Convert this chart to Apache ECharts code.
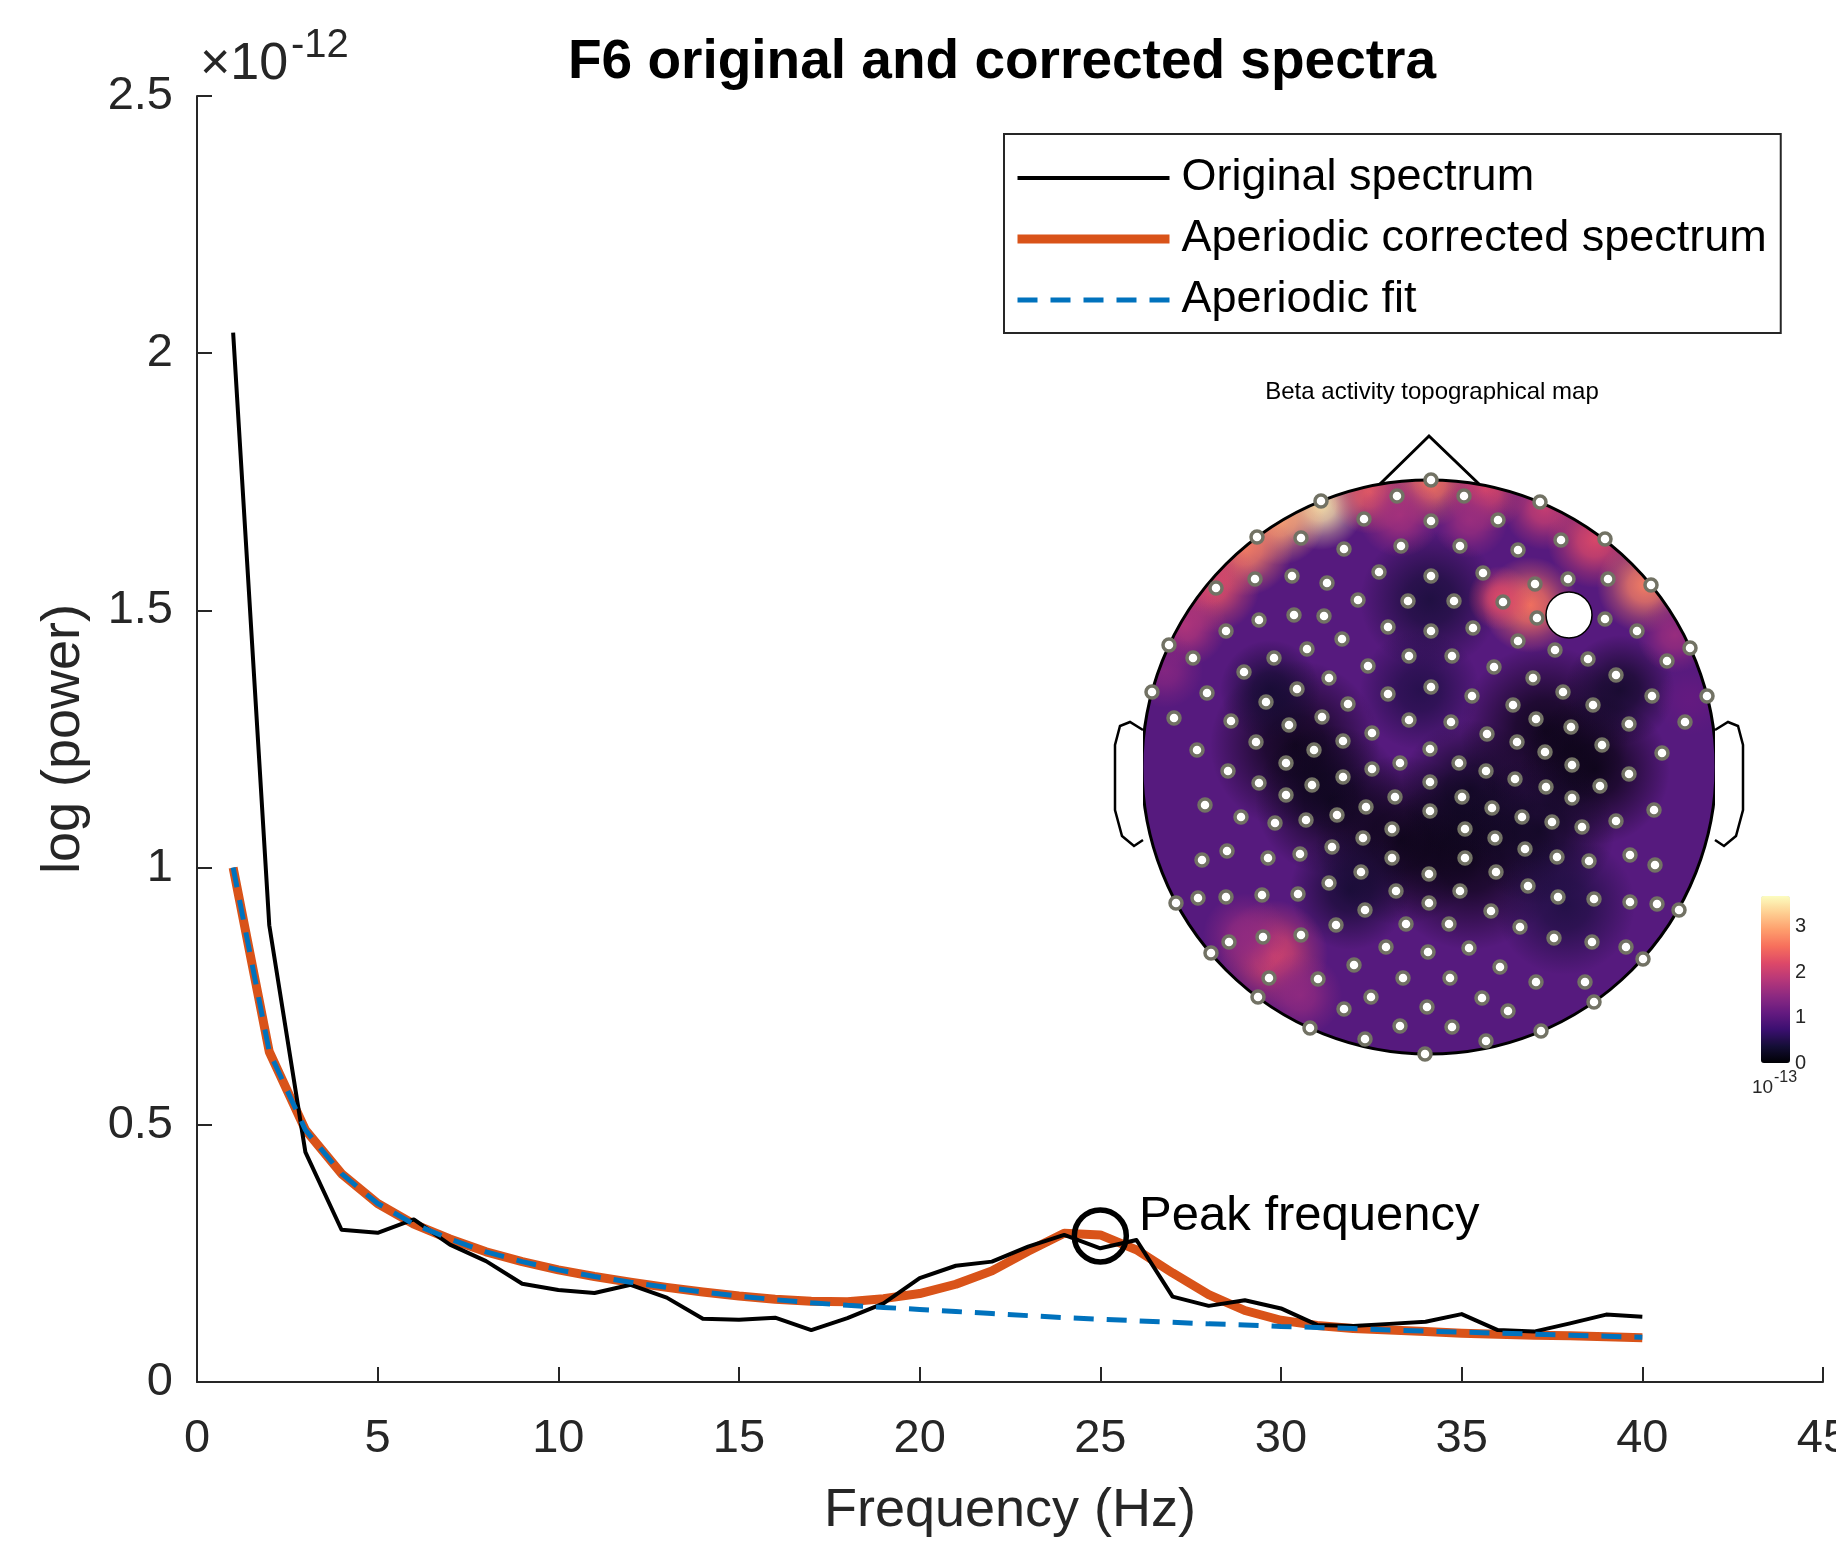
<!DOCTYPE html>
<html>
<head>
<meta charset="utf-8">
<title>F6 original and corrected spectra</title>
<script src="https://cdn.jsdelivr.net/npm/echarts@6/dist/echarts.min.js"></script>
<style>
  html, body { margin: 0; padding: 0; background: #fff; }
  #chart { width: 1836px; height: 1550px; }
</style>
</head>
<body>
<div id="chart"></div>
<script>
// spectrum values, in units of 1e-12
const freqs = [1, 2, 3, 4, 5, 6, 7, 8, 9, 10, 11, 12, 13, 14, 15, 16, 17, 18, 19, 20,
  21, 22, 23, 24, 25, 26, 27, 28, 29, 30, 31, 32, 33, 34, 35, 36, 37, 38, 39, 40];
const originalSpectrum = [2.04, 0.888, 0.447, 0.296, 0.290, 0.316, 0.267, 0.235, 0.191, 0.179,
  0.173, 0.189, 0.164, 0.123, 0.121, 0.125, 0.101, 0.124, 0.153, 0.202,
  0.226, 0.234, 0.263, 0.286, 0.260, 0.276, 0.166, 0.148, 0.159, 0.143,
  0.111, 0.109, 0.113, 0.117, 0.132, 0.101, 0.098, 0.114, 0.131, 0.127];
const correctedSpectrum = [1.00, 0.642, 0.490, 0.405, 0.347, 0.307, 0.278, 0.253, 0.234, 0.218,
  0.205, 0.194, 0.184, 0.175, 0.167, 0.161, 0.157, 0.156, 0.162, 0.172,
  0.190, 0.216, 0.254, 0.289, 0.286, 0.257, 0.212, 0.170, 0.139, 0.120,
  0.110, 0.104, 0.101, 0.098, 0.095, 0.093, 0.091, 0.090, 0.088, 0.086];
const aperiodicFit = [1.00, 0.642, 0.490, 0.405, 0.347, 0.307, 0.278, 0.253, 0.234, 0.218,
  0.205, 0.194, 0.184, 0.175, 0.167, 0.160, 0.154, 0.149, 0.145, 0.141,
  0.137, 0.133, 0.129, 0.125, 0.122, 0.119, 0.116, 0.113, 0.111, 0.108,
  0.106, 0.104, 0.101, 0.099, 0.097, 0.095, 0.093, 0.091, 0.089, 0.087];
const peakPoint = [25, 0.284];
const seriesNames = ['Original spectrum', 'Aperiodic corrected spectrum', 'Aperiodic fit'];

// topographic map: field patches [x, y, radius, power (1e-13)] in head-plane units
const lowPatches = [
  [1295, 745, 85, 0.05], [1330, 800, 75, 0.10], [1400, 840, 85, 0.05], [1470, 860, 90, 0.05],
  [1470, 790, 70, 0.15], [1545, 730, 85, 0.05], [1595, 770, 75, 0.05], [1540, 830, 75, 0.15],
  [1430, 600, 70, 0.35], [1420, 690, 60, 0.45], [1565, 905, 70, 0.40], [1350, 890, 60, 0.30],
  [1270, 690, 50, 0.30], [1620, 690, 55, 0.20]
];
const highPatches = [
  [1320, 505, 45, 3.50], [1280, 520, 45, 3.00], [1245, 548, 48, 2.70], [1212, 585, 48, 2.30],
  [1185, 625, 42, 1.80], [1165, 670, 38, 1.40], [1195, 570, 42, 2.00],
  [1370, 492, 42, 2.40], [1430, 482, 45, 2.60], [1485, 490, 42, 2.20], [1545, 508, 42, 2.00],
  [1400, 515, 42, 1.70], [1470, 520, 38, 1.60],
  [1595, 540, 48, 2.20], [1645, 585, 48, 2.70], [1675, 635, 38, 1.60],
  [1530, 605, 48, 2.60], [1500, 598, 32, 2.20],
  [1273, 955, 55, 2.10], [1245, 935, 42, 1.50], [1300, 995, 42, 1.50], [1690, 700, 35, 1.10]
];
const electrodes = [
  [1431, 480], [1397, 496], [1464, 496], [1321, 501], [1540, 502], [1364, 519], [1431, 521], [1498, 520],
  [1257, 537], [1301, 538], [1561, 540], [1605, 539], [1344, 549], [1401, 546], [1460, 546], [1518, 550],
  [1379, 572], [1431, 576], [1483, 573], [1255, 579], [1292, 576], [1327, 583], [1535, 584], [1568, 579],
  [1608, 579], [1216, 588], [1651, 585], [1358, 600], [1408, 601], [1454, 601], [1503, 602], [1259, 620],
  [1294, 615], [1324, 616], [1537, 618], [1605, 619], [1226, 631], [1388, 627], [1431, 631], [1473, 628],
  [1637, 631], [1342, 639], [1518, 641], [1555, 650], [1169, 645], [1690, 648], [1193, 658], [1307, 649],
  [1274, 658], [1409, 656], [1452, 656], [1588, 659], [1667, 661], [1368, 666], [1494, 667], [1244, 672],
  [1329, 678], [1533, 678], [1616, 675], [1152, 692], [1207, 693], [1297, 689], [1431, 687], [1388, 694],
  [1472, 696], [1563, 692], [1652, 696], [1707, 696], [1266, 702], [1348, 704], [1513, 705], [1593, 705],
  [1174, 718], [1231, 721], [1322, 717], [1289, 725], [1409, 720], [1451, 722], [1536, 719], [1571, 727],
  [1629, 724], [1685, 722], [1372, 733], [1487, 734], [1197, 750], [1256, 742], [1314, 750], [1343, 741],
  [1430, 749], [1517, 742], [1545, 752], [1602, 745], [1662, 753],
  [1286, 763], [1372, 769], [1400, 763], [1459, 763], [1572, 765], [1629, 774], [1228, 771], [1486, 771],
  [1259, 783], [1312, 785], [1343, 777], [1430, 782], [1515, 779], [1546, 787], [1600, 786],
  [1205, 805], [1286, 795], [1395, 797], [1462, 797], [1572, 798], [1654, 810],
  [1241, 817], [1275, 823], [1306, 820], [1337, 815], [1366, 807], [1430, 811], [1492, 808], [1522, 817],
  [1552, 822], [1582, 827], [1616, 821],
  [1363, 838], [1392, 829], [1465, 829], [1495, 838], [1525, 849],
  [1202, 860], [1227, 851], [1268, 858], [1300, 854], [1332, 847], [1392, 858], [1465, 858], [1557, 857],
  [1589, 861], [1630, 855], [1655, 865],
  [1361, 872], [1429, 874], [1496, 872], [1329, 883], [1396, 891], [1460, 891], [1528, 886],
  [1176, 903], [1198, 898], [1226, 897], [1262, 895], [1298, 894], [1365, 910], [1429, 903], [1491, 911],
  [1558, 897], [1594, 899], [1630, 902], [1657, 904], [1679, 910],
  [1336, 925], [1406, 924], [1449, 924], [1520, 927],
  [1229, 942], [1263, 937], [1301, 935], [1211, 953], [1386, 947], [1428, 952], [1469, 948], [1554, 938],
  [1592, 942], [1626, 947], [1643, 959],
  [1354, 965], [1500, 967], [1269, 978], [1318, 979], [1403, 978], [1450, 978], [1536, 982], [1585, 982],
  [1258, 997], [1371, 997], [1482, 998], [1594, 1002], [1344, 1009], [1427, 1007], [1508, 1011],
  [1310, 1028], [1400, 1026], [1452, 1027], [1541, 1031],
  [1365, 1039], [1486, 1041],
  [1425, 1054]
];
const selectedElectrode = [[1569, 615]];
const colorbarMax = 3.67;
const magma = ['#000004', '#140e36', '#3b0f70', '#641a80', '#8c2981', '#b73779',
  '#de4968', '#f7705c', '#fe9f6d', '#fecf92', '#fcfdbf'];

const FONT = 'Liberation Sans, Arial, Helvetica, sans-serif';
const AXIS = '#262626';

// head drawing (pixel layout of the topomap grid)
const HX = 1429, HY = 767, HR = 287;

const chart = echarts.init(document.getElementById('chart'));

// soft round patch coloured through the visualMap
function makeBlob(a0, a1, a2) {
  return function (params, api) {
    const c = api.coord([api.value(0), api.value(1)]);
    const r = api.size([api.value(2), 0])[0];
    const col = api.visual('color');
    return {
      type: 'circle',
      shape: { cx: c[0], cy: c[1], r: r },
      style: {
        fill: new echarts.graphic.RadialGradient(0.5, 0.5, 0.5, [
          { offset: 0, color: echarts.color.modifyAlpha(col, a0) },
          { offset: 0.35, color: echarts.color.modifyAlpha(col, a1) },
          { offset: 0.7, color: echarts.color.modifyAlpha(col, a2) },
          { offset: 1, color: echarts.color.modifyAlpha(col, 0) }
        ])
      }
    };
  };
}

const option = {
  animation: false,
  backgroundColor: '#fff',
  title: {
    text: 'F6 original and corrected spectra',
    left: 997,
    top: 30,
    textAlign: 'center',
    textStyle: { fontFamily: FONT, fontSize: 55, fontWeight: 'bold', color: '#000' }
  },
  legend: {
    data: seriesNames,
    orient: 'vertical',
    left: 1004,
    top: 134,
    itemWidth: 152,
    itemHeight: 14,
    itemGap: 11,
    padding: [19, 14, 8, 9],
    borderColor: AXIS,
    borderWidth: 2,
    selectedMode: false,
    itemStyle: { opacity: 0 },
    lineStyle: { width: 'inherit' },
    textStyle: { fontFamily: FONT, fontSize: 45, color: '#000', lineHeight: 50, padding: [0, 0, 0, 7] }
  },
  grid: [
    { left: 197, top: 96, width: 1626, height: 1286, containLabel: false, outerBoundsMode: 'none' },
    { left: 1142, top: 480, width: 574, height: 574, containLabel: false, outerBoundsMode: 'none' },
    { left: 1761, top: 896, width: 29, height: 167, containLabel: false, outerBoundsMode: 'none' }
  ],
  xAxis: [
    {
      type: 'value', gridIndex: 0, min: 0, max: 45, interval: 5,
      name: 'Frequency (Hz)', nameLocation: 'middle', nameGap: 102,
      nameTextStyle: { fontFamily: FONT, fontSize: 54, color: AXIS },
      axisLine: { lineStyle: { color: AXIS, width: 2 } },
      axisTick: { inside: true, length: 15, lineStyle: { color: AXIS, width: 2 } },
      axisLabel: { fontFamily: FONT, fontSize: 47, color: AXIS, margin: 34,
        alignMinLabel: 'center', alignMaxLabel: 'center' },
      splitLine: { show: false }
    },
    { type: 'value', gridIndex: 1, min: 1142, max: 1716, show: false },
    { type: 'value', gridIndex: 2, min: 0, max: 1, show: false }
  ],
  yAxis: [
    {
      type: 'value', gridIndex: 0, min: 0, max: 2.5, interval: 0.5,
      name: 'log (power)', nameLocation: 'middle', nameGap: 106, nameRotate: 90,
      nameTextStyle: { fontFamily: FONT, fontSize: 54, color: AXIS },
      axisLine: { show: true, lineStyle: { color: AXIS, width: 2 } },
      axisTick: { show: true, inside: true, length: 15, lineStyle: { color: AXIS, width: 2 } },
      axisLabel: { fontFamily: FONT, fontSize: 47, color: AXIS, margin: 24 },
      splitLine: { show: false }
    },
    { type: 'value', gridIndex: 1, min: 480, max: 1054, inverse: true, show: false },
    {
      type: 'value', gridIndex: 2, min: 0, max: colorbarMax, interval: 1, position: 'right', z: 12,
      axisLine: { show: false },
      axisTick: { show: false },
      splitLine: { show: false },
      axisLabel: {
        fontFamily: FONT, fontSize: 20, color: AXIS, margin: 5,
        formatter: v => (Number.isInteger(v) ? String(v) : '')
      }
    }
  ],
  visualMap: {
    type: 'continuous',
    min: 0,
    max: colorbarMax,
    dimension: 3,
    seriesIndex: [4, 5],
    left: 1761,
    top: 896,
    itemWidth: 29,
    itemHeight: 167,
    padding: 0,
    text: null,
    showLabel: false,
    calculable: false,
    hoverLink: false,
    z: 12,
    inRange: { color: magma }
  },
  series: [
    {
      name: seriesNames[0], type: 'line', xAxisIndex: 0, yAxisIndex: 0,
      data: freqs.map((f, i) => [f, originalSpectrum[i]]),
      symbol: 'none', lineStyle: { color: '#000', width: 4, join: 'round' },
      itemStyle: { color: '#000' }, z: 3
    },
    {
      name: seriesNames[1], type: 'line', xAxisIndex: 0, yAxisIndex: 0,
      data: freqs.map((f, i) => [f, correctedSpectrum[i]]),
      symbol: 'none', lineStyle: { color: '#D95319', width: 9, join: 'round' },
      itemStyle: { color: '#D95319' }, z: 2
    },
    {
      name: seriesNames[2], type: 'line', xAxisIndex: 0, yAxisIndex: 0,
      data: freqs.map((f, i) => [f, aperiodicFit[i]]),
      symbol: 'none', lineStyle: { color: '#0072BD', width: 5, type: [20, 13] },
      itemStyle: { color: '#0072BD' }, z: 4
    },
    {
      name: 'Peak frequency', type: 'scatter', xAxisIndex: 0, yAxisIndex: 0,
      data: [peakPoint], symbol: 'circle', symbolSize: 52, z: 5,
      itemStyle: { color: 'rgba(0,0,0,0)', borderColor: '#000', borderWidth: 5.5, opacity: 1 },
      label: {
        show: true, position: 'right', distance: 10, offset: [0, -19],
        formatter: 'Peak frequency',
        fontFamily: FONT, fontSize: 49, color: '#000'
      }
    },
    {
      name: 'Beta power low', type: 'custom', xAxisIndex: 1, yAxisIndex: 1,
      data: lowPatches, z: 1, silent: true,
      encode: { x: 0, y: 1 },
      renderItem: makeBlob(0.8, 0.65, 0.3)
    },
    {
      name: 'Beta power high', type: 'custom', xAxisIndex: 1, yAxisIndex: 1,
      data: highPatches, z: 1, silent: true,
      encode: { x: 0, y: 1 },
      renderItem: makeBlob(0.95, 0.75, 0.3)
    },
    {
      name: 'Electrodes', type: 'scatter', xAxisIndex: 1, yAxisIndex: 1,
      data: electrodes, symbol: 'circle', symbolSize: 12, z: 8, silent: true,
      itemStyle: { color: '#ffffff', borderColor: '#727264', borderWidth: 3.5, opacity: 1 }
    },
    {
      name: 'F6', type: 'scatter', xAxisIndex: 1, yAxisIndex: 1,
      data: selectedElectrode, symbol: 'circle', symbolSize: 46, z: 9, silent: true,
      itemStyle: { color: '#ffffff', borderColor: '#000', borderWidth: 1.5, opacity: 1 }
    }
  ],
  graphic: [
    // x10^-12 exponent
    { type: 'text', x: 200, y: 65, z: 10,
      style: { text: '\u00d710', fontFamily: FONT, fontSize: 52, fill: AXIS,
        align: 'left', verticalAlign: 'middle', textAlign: 'left', textVerticalAlign: 'middle' } },
    { type: 'text', x: 291, y: 46, z: 10,
      style: { text: '-12', fontFamily: FONT, fontSize: 40, fill: AXIS,
        align: 'left', verticalAlign: 'middle', textAlign: 'left', textVerticalAlign: 'middle' } },
    // head disk background
    { type: 'circle', shape: { cx: HX, cy: HY, r: HR }, z: 0, silent: true,
      style: { fill: '#561a7e' } },
    // mask outside the head
    { type: 'ring', shape: { cx: HX, cy: HY, r: 392, r0: HR }, z: 6, silent: true,
      style: { fill: '#ffffff' } },
    // head outline, nose, ears
    { type: 'circle', shape: { cx: HX, cy: HY, r: HR }, z: 7, silent: true,
      style: { fill: null, stroke: '#000', lineWidth: 3 } },
    { type: 'polyline', z: 7, silent: true,
      shape: { points: [[1380, 484], [1429, 436], [1479, 484]] },
      style: { fill: null, stroke: '#000', lineWidth: 3 } },
    { type: 'polyline', z: 7, silent: true,
      shape: { points: [[1143, 730], [1130, 722], [1120, 726], [1115, 745], [1115, 810], [1122, 836], [1134, 846], [1143, 840]] },
      style: { fill: '#fff', stroke: '#000', lineWidth: 2.5 } },
    { type: 'polyline', z: 7, silent: true,
      shape: { points: [[1715, 730], [1728, 722], [1738, 726], [1743, 745], [1743, 810], [1736, 836], [1724, 846], [1715, 840]] },
      style: { fill: '#fff', stroke: '#000', lineWidth: 2.5 } },
    // topomap title
    { type: 'text', x: 1432, y: 392, z: 10,
      style: { text: 'Beta activity topographical map', fontFamily: FONT, fontSize: 24, fill: '#000',
        align: 'center', verticalAlign: 'middle', textAlign: 'center', textVerticalAlign: 'middle' } },
    // colorbar exponent
    { type: 'text', x: 1752, y: 1088, z: 12,
      style: { text: '10', fontFamily: FONT, fontSize: 19, fill: AXIS,
        align: 'left', verticalAlign: 'middle', textAlign: 'left', textVerticalAlign: 'middle' } },
    { type: 'text', x: 1774, y: 1078, z: 12,
      style: { text: '-13', fontFamily: FONT, fontSize: 16, fill: AXIS,
        align: 'left', verticalAlign: 'middle', textAlign: 'left', textVerticalAlign: 'middle' } }
  ]
};

chart.setOption(option);
</script>
</body>
</html>
